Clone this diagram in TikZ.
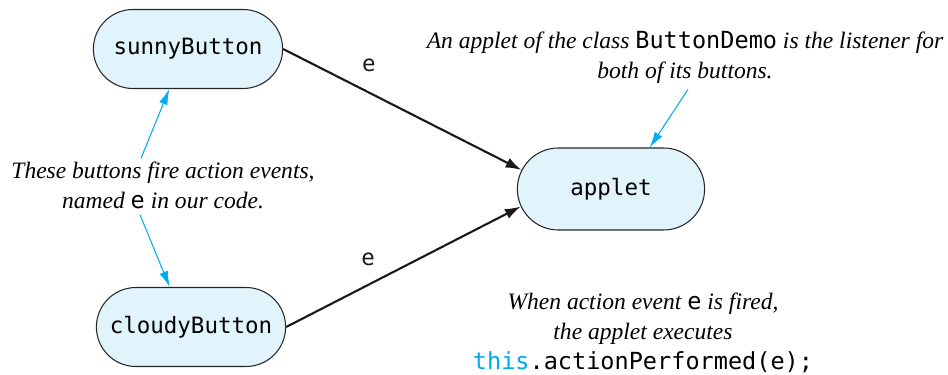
\documentclass[tikz,border=0pt]{standalone}
\usepackage{fontspec}
\setmainfont{Liberation Serif}
\setmonofont{DejaVu Sans Mono}
\usetikzlibrary{shapes.misc,arrows.meta}
\definecolor{boxblue}{HTML}{E1F3FB}
\definecolor{noteblue}{HTML}{00AEEF}
\definecolor{codeblue}{HTML}{00A9E8}

\tikzset{
  button/.style={rounded rectangle, draw=black!85, line width=0.6pt, fill=boxblue,
    minimum width=4.02cm, minimum height=1.58cm, font=\ttfamily\fontsize{12.8}{15}\selectfont},
  note/.style={align=center, inner sep=0pt, font=\itshape\fontsize{13.4}{17}\selectfont},
  evlabel/.style={font=\ttfamily\fontsize{12.8}{15}\selectfont},
  event/.style={-{Latex[length=9pt,width=6pt]}, line width=1.2pt, black!90},
  pointer/.style={-{Latex[length=9pt,width=5pt]}, line width=0.6pt, noteblue}
}

\begin{document}
\begin{tikzpicture}[x=0.02cm,y=-0.02cm]
\useasboundingbox (0,0) rectangle (948,375);

%boutons et applet
\node[button] (sunny) at (188,49) {sunnyButton};
\node[button] (cloudy) at (191,327) {cloudyButton};
\node[button, minimum width=3.98cm, minimum height=1.64cm] (applet) at (611,189) {applet};

%evenements
\draw[event] (sunny.east) -- (applet.168) node[evlabel, pos=0.36, above=0.28cm] {e};
\draw[event] (cloudy.east) -- (applet.191) node[evlabel, pos=0.35, above=0.24cm] {e};

%commentaires
\node[note] (fire) at (163,185) {These buttons fire action events,\\named {\upshape\ttfamily e} in our code.};
\node[note] (listener) at (685,57) {An applet of the class {\upshape\ttfamily ButtonDemo} is the listener for\\both of its buttons.};
\node[note] (perform) at (643,333) {When action event {\upshape\ttfamily e} is fired,\\the applet executes\\{\upshape\ttfamily\color{codeblue}this}{\upshape\ttfamily .actionPerformed(e);}};

\draw[pointer] ([xshift=-0.44cm,yshift=0.06cm]fire.north) -- (sunny.245);
\draw[pointer] ([xshift=-0.46cm,yshift=-0.12cm]fire.south) -- (cloudy.118);
\draw[pointer] ([xshift=0.06cm,yshift=-0.12cm]listener.south) -- (applet.47);

\end{tikzpicture}
\end{document}
